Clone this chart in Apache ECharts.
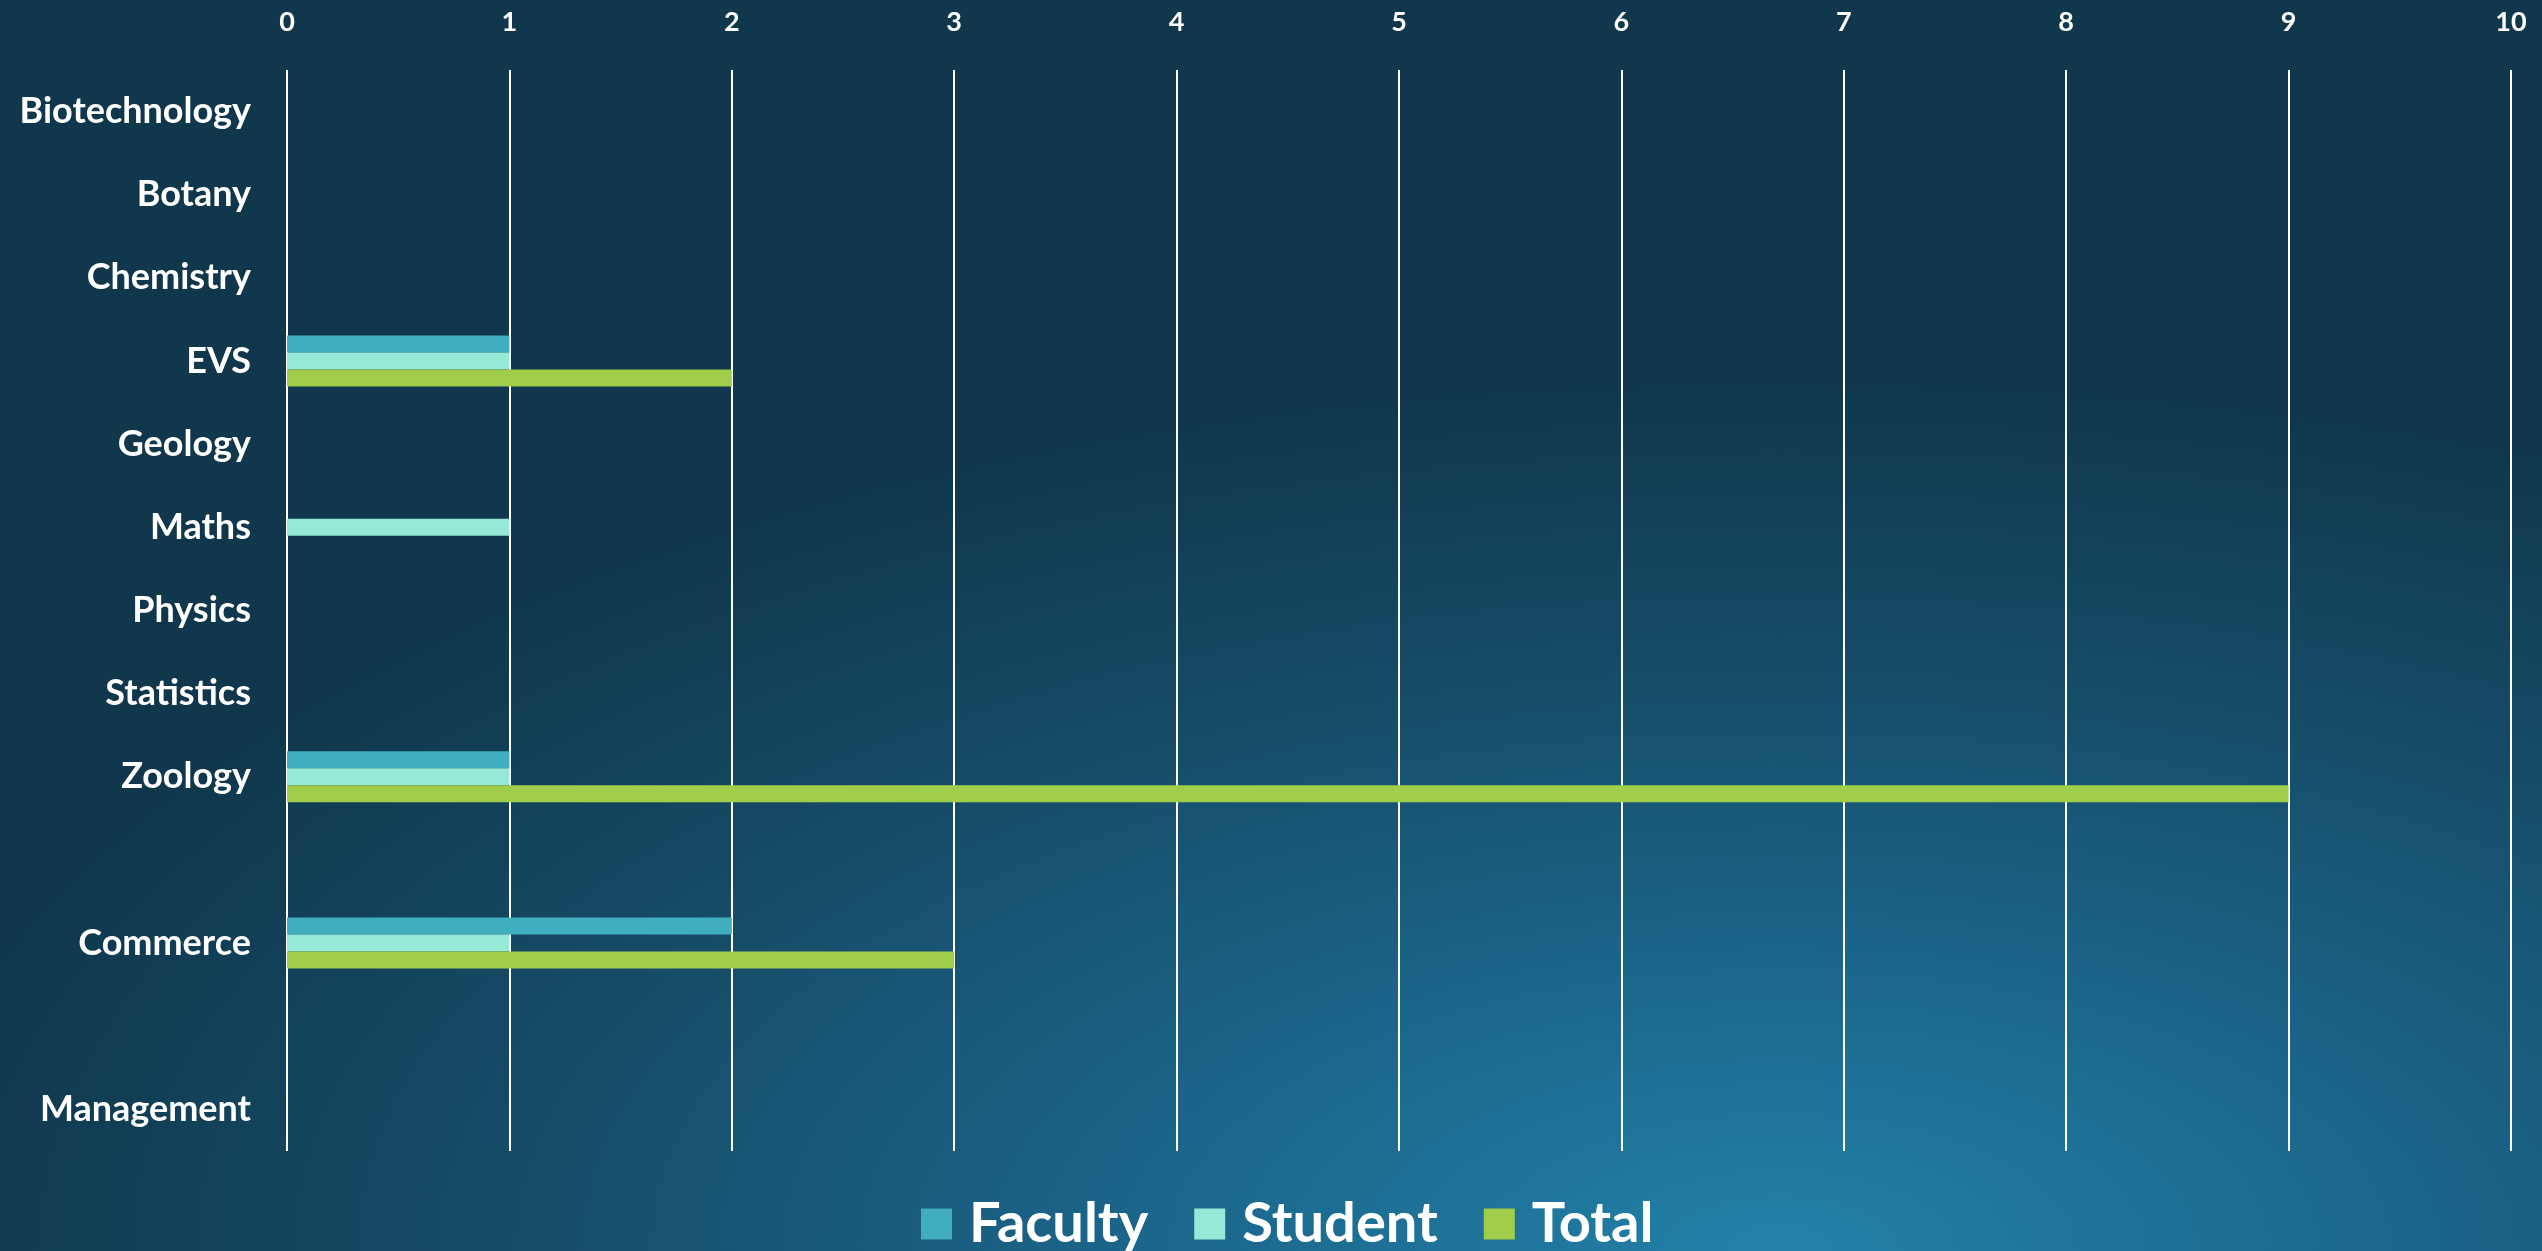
<!DOCTYPE html>
<html>
<head>
<meta charset="utf-8">
<script src="https://cdn.jsdelivr.net/npm/echarts@6/dist/echarts.min.js"></script>
<style>
html,body{margin:0;padding:0;width:2542px;height:1251px;overflow:hidden;}
body{background:
 radial-gradient(ellipse 75% 70% at 70% 100%, #2381a8 0%, #1b6489 35%, #164d69 65%, #10374c 100%);}
#c{width:2542px;height:1251px;}
</style>
</head>
<body>
<div id="c"></div>
<script>
const categories = ['Biotechnology','Botany','Chemistry','EVS','Geology','Maths','Physics','Statistics','Zoology',' ','Commerce','  ','Management'];
const faculty = [0,0,0,1,0,0,0,0,1,null,2,null,0];
const student = [0,0,0,1,0,1,0,0,1,null,1,null,0];
const total   = [0,0,0,2,0,0,0,0,9,null,3,null,0];
const xTicks = [0,1,2,3,4,5,6,7,8,9,10];

const font = 'Lato, "Open Sans", sans-serif';
const chart = echarts.init(document.getElementById('c'), null, {renderer:'canvas'});
chart.setOption({
  backgroundColor: 'transparent',
  animation: false,
  textStyle: {fontFamily: font},
  grid: {left: 287, right: 31, top: 70, bottom: 100, containLabel: false},
  legend: {
    bottom: -6, left: 916,
    itemWidth: 31, itemHeight: 31, itemGap: 46,
    icon: 'rect',
    textStyle: {color: '#ffffff', fontSize: 56, fontWeight: 'bold', fontFamily: font, padding:[0,0,0,12]},
    data: ['Faculty','Student','Total']
  },
  xAxis: {
    type: 'value', position: 'top', min: xTicks[0], max: xTicks[xTicks.length-1], interval: 1,
    axisLine: {show: false}, axisTick: {show: false},
    axisLabel: {color: '#ffffff', fontSize: 27, fontWeight: 'bold', margin: 34,
      formatter: v => xTicks.includes(v) ? String(v) : ''},
    splitLine: {show: true, lineStyle: {color: '#ffffff', width: 2}}
  },
  yAxis: {
    type: 'category', inverse: true, data: categories,
    axisLine: {show: false}, axisTick: {show: false},
    axisLabel: {color: '#ffffff', fontSize: 36, fontWeight: 'bold', margin: 36},
    splitLine: {show: false}
  },
  series: [
    {name: 'Faculty', type: 'bar', data: faculty, barWidth: 17, barGap: '0%', itemStyle: {color: '#40aebf'}},
    {name: 'Student', type: 'bar', data: student, barWidth: 17, barGap: '0%', itemStyle: {color: '#96e9d7'}},
    {name: 'Total',   type: 'bar', data: total,   barWidth: 17, barGap: '0%', itemStyle: {color: '#a0ce4a'}}
  ]
});
</script>
</body>
</html>
